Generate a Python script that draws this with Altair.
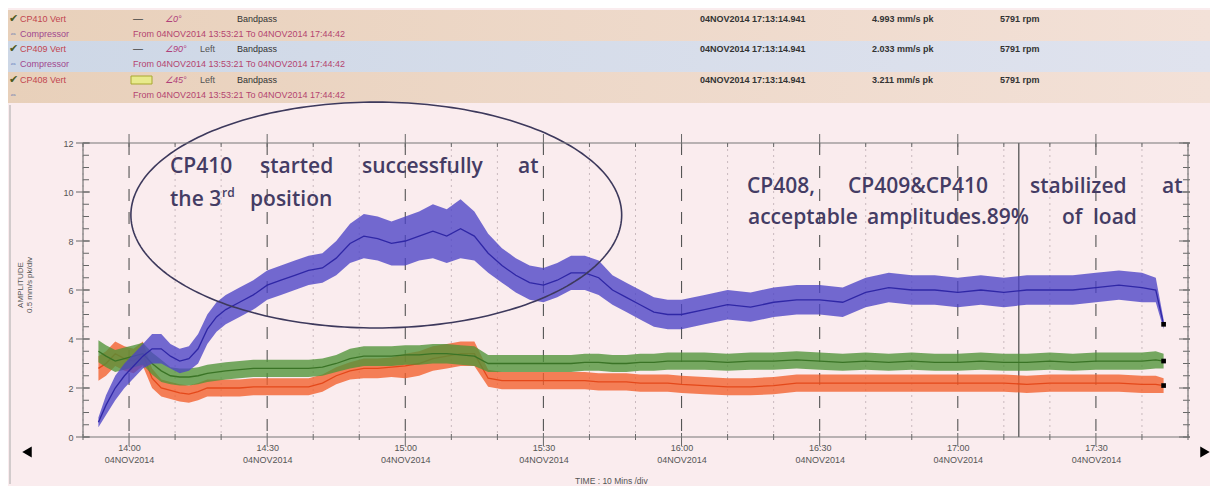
import altair as alt
import numpy as np
import pandas as pd

# ---------------- data ----------------
DAY = "2014-11-04 "
TIMES = ["13:53:21", "13:55", "13:57", "13:59", "14:01", "14:03", "14:05", "14:07", "14:09", "14:11",
         "14:13", "14:15", "14:17", "14:19", "14:21", "14:24", "14:27", "14:30", "14:33", "14:36",
         "14:39", "14:42", "14:45", "14:48", "14:51", "14:54", "14:57", "15:00", "15:03", "15:06",
         "15:09", "15:12", "15:15", "15:18", "15:21", "15:24", "15:27", "15:30", "15:33", "15:36",
         "15:39", "15:42", "15:45", "15:48", "15:51", "15:54", "15:57", "16:00", "16:05", "16:10",
         "16:15", "16:20", "16:25", "16:30", "16:35", "16:40", "16:45", "16:50", "16:55", "17:00",
         "17:05", "17:10", "17:15", "17:20", "17:25", "17:30", "17:35", "17:40", "17:43", "17:44:42"]

CP410 = [0.6, 1.3, 2.0, 2.5, 2.9, 3.3, 3.6, 3.6, 3.3, 3.1,
         3.2, 3.6, 4.4, 4.9, 5.2, 5.5, 5.8, 6.2, 6.4, 6.6,
         6.8, 6.9, 7.3, 7.9, 8.2, 8.1, 7.9, 8.0, 8.2, 8.4,
         8.2, 8.5, 8.2, 7.5, 7.0, 6.6, 6.3, 6.2, 6.4, 6.7,
         6.7, 6.5, 6.0, 5.7, 5.4, 5.1, 5.0, 5.0, 5.2, 5.4,
         5.3, 5.5, 5.6, 5.6, 5.5, 5.9, 6.1, 6.0, 6.0, 5.9,
         6.0, 5.9, 6.0, 6.0, 6.0, 6.1, 6.2, 6.1, 6.0, 4.6]
CP410_SPREAD = [0.2, 0.4, 0.5, 0.5, 0.5, 0.5, 0.6, 0.6, 0.5, 0.5,
                0.5, 0.6, 0.6, 0.6, 0.6, 0.6, 0.6, 0.6, 0.6, 0.6,
                0.6, 0.6, 0.7, 0.8, 0.9, 0.9, 0.9, 1.0, 1.0, 1.1,
                1.1, 1.2, 1.0, 0.8, 0.7, 0.7, 0.7, 0.7, 0.7, 0.7,
                0.7, 0.7, 0.6, 0.6, 0.6, 0.6, 0.6, 0.6, 0.6, 0.6,
                0.6, 0.6, 0.6, 0.6, 0.6, 0.6, 0.6, 0.6, 0.6, 0.6,
                0.6, 0.6, 0.6, 0.6, 0.6, 0.6, 0.6, 0.6, 0.5, 0.2]

CP408 = [3.5, 3.3, 3.1, 3.2, 3.3, 3.4, 3.0, 2.7, 2.5, 2.45,
         2.45, 2.5, 2.6, 2.65, 2.7, 2.75, 2.8, 2.8, 2.8, 2.8,
         2.8, 2.85, 3.0, 3.2, 3.3, 3.3, 3.3, 3.35, 3.35, 3.4,
         3.4, 3.35, 3.3, 3.0, 3.0, 3.0, 3.0, 3.0, 3.0, 3.0,
         3.05, 3.05, 3.0, 3.0, 3.05, 3.05, 3.1, 3.1, 3.1, 3.05,
         3.1, 3.1, 3.15, 3.1, 3.05, 3.1, 3.05, 3.1, 3.05, 3.05,
         3.1, 3.05, 3.05, 3.1, 3.05, 3.1, 3.1, 3.1, 3.15, 3.1]
CP408_SPREAD = [0.45, 0.45, 0.45, 0.45, 0.45, 0.45, 0.45, 0.45, 0.35, 0.35,
                0.35, 0.35, 0.35, 0.35, 0.35, 0.35, 0.35, 0.35, 0.35, 0.35,
                0.35, 0.35, 0.35, 0.4, 0.4, 0.4, 0.4, 0.4, 0.4, 0.4,
                0.4, 0.4, 0.4, 0.35, 0.35, 0.35, 0.35, 0.35, 0.35, 0.35,
                0.35, 0.35, 0.35, 0.35, 0.35, 0.35, 0.35, 0.35, 0.35, 0.35,
                0.35, 0.35, 0.35, 0.35, 0.35, 0.35, 0.35, 0.35, 0.35, 0.35,
                0.35, 0.35, 0.35, 0.35, 0.35, 0.35, 0.35, 0.35, 0.35, 0.3]

CP409 = [2.8, 3.0, 3.4, 3.2, 3.1, 3.4, 2.4, 2.0, 1.9, 1.8,
         1.75, 1.85, 2.0, 2.0, 2.0, 2.0, 2.05, 2.05, 2.05, 2.05,
         2.05, 2.2, 2.5, 2.7, 2.8, 2.8, 2.85, 2.9, 3.0, 3.2,
         3.3, 3.4, 3.4, 2.4, 2.3, 2.3, 2.3, 2.3, 2.3, 2.3,
         2.3, 2.25, 2.25, 2.25, 2.2, 2.2, 2.2, 2.15, 2.1, 2.05,
         2.05, 2.1, 2.2, 2.2, 2.2, 2.2, 2.2, 2.2, 2.2, 2.2,
         2.2, 2.2, 2.15, 2.2, 2.2, 2.2, 2.2, 2.15, 2.15, 2.1]
CP409_SPREAD = [0.5, 0.5, 0.5, 0.5, 0.5, 0.5, 0.4, 0.35, 0.35, 0.35,
                0.35, 0.35, 0.35, 0.35, 0.35, 0.35, 0.35, 0.35, 0.35, 0.35,
                0.35, 0.35, 0.35, 0.35, 0.4, 0.4, 0.4, 0.5, 0.5, 0.5,
                0.5, 0.5, 0.5, 0.35, 0.35, 0.35, 0.35, 0.35, 0.35, 0.35,
                0.35, 0.35, 0.35, 0.35, 0.35, 0.35, 0.35, 0.35, 0.35, 0.35,
                0.35, 0.35, 0.35, 0.35, 0.35, 0.35, 0.35, 0.35, 0.35, 0.35,
                0.35, 0.35, 0.35, 0.35, 0.35, 0.35, 0.35, 0.35, 0.35, 0.3]

X_TICKS = ["14:00", "14:30", "15:00", "15:30", "16:00", "16:30", "17:00", "17:30"]
X_MINOR = ["13:50", "14:10", "14:20", "14:40", "14:50", "15:10", "15:20", "15:40", "15:50",
           "16:10", "16:20", "16:40", "16:50", "17:10", "17:20", "17:40", "17:50"]
Y_TICKS = [0, 2, 4, 6, 8, 10, 12]
Y_MINOR = [0.5 * i for i in range(25)]
CURSOR_TIME = "17:13:15"

CHANNELS = ["CP410 Vert", "CP409 Vert", "CP408 Vert"]
MACHINES = ["Compressor", "Compressor", ""]
ANGLES = ["∠0°", "∠90°", "∠45°"]
SIDES = ["", "Left", "Left"]
FILTERS = ["Bandpass", "Bandpass", "Bandpass"]
RANGE_TEXT = "From 04NOV2014 13:53:21 To 04NOV2014 17:44:42"
CURSOR_TEXT = "04NOV2014 17:13:14.941"
CURSOR_VALUES = ["4.993 mm/s pk", "2.033 mm/s pk", "3.211 mm/s pk"]
SPEED = "5791 rpm"

# ellipse annotation (centre and radii, in data units)
ELL_CENTER = "14:53:42"
ELL_RX_MIN = 53.3
ELL_CY = 9.06
ELL_RY = 4.61

# ---------------- layout ----------------
W, H = 1105, 294
BG = "#faecee"
FONT = "Liberation Sans"
ANN_FONT = "Open Sans"
ANN_COLOR = "#443c64"


def t(s):
    return pd.Timestamp(DAY + s)


def dt(h, m):
    return alt.DateTime(year=2014, month=11, date=4, hours=h, minutes=m)


x_scale = alt.Scale(domain=[dt(13, 50), dt(17, 50)])
y_scale = alt.Scale(domain=[0, 12], nice=False)
x_axis = alt.Axis(values=[dt(int(s[:2]), int(s[3:])) for s in X_TICKS],
                  labelExpr="[timeFormat(datum.value, '%H:%M'), '04NOV2014']",
                  title=None, ticks=False, domain=False, grid=False, zindex=2,
                  labelFont=FONT, labelFontSize=9, labelColor="#555", labelPadding=6,
                  labelLineHeight=12)
y_axis = alt.Axis(values=Y_TICKS, title=None, ticks=False, domain=False, grid=False, zindex=2,
                  labelFont=FONT, labelFontSize=9, labelColor="#555", labelPadding=10)
X = alt.X("time:T", scale=x_scale, axis=x_axis)
Y = alt.Y("amp:Q", scale=y_scale, axis=y_axis)

one = pd.DataFrame({"k": [0]})


def text(s, x, y, color="#333", size=9, font=FONT, style="normal", weight="normal",
         align="left", angle=0):
    return alt.Chart(pd.DataFrame({"label": [s]})).mark_text(
        align=align, baseline="middle", color=color, fontSize=size, font=font,
        fontStyle=style, fontWeight=weight, angle=angle
    ).encode(x=alt.value(x), y=alt.value(y), text="label:N")


def rect(x1, x2, y1, y2, **kw):
    return alt.Chart(one).mark_rect(**kw).encode(
        x=alt.value(x1), x2=alt.value(x2), y=alt.value(y1), y2=alt.value(y2))


def grad(c1, c2):
    return alt.LinearGradient(gradient="linear", x1=0, x2=1, y1=0, y2=0,
                              stops=[alt.GradientStop(color=c1, offset=0),
                                     alt.GradientStop(color=c2, offset=1)])


layers = []
# page background (defines bounds)
layers.append(rect(-75, 1127, -135, 341, fill=BG))
# header bands
layers.append(rect(-75, 1127, -133, -102, color=grad("#e8d0ba", "#f3e1d8")))
layers.append(rect(-75, 1127, -102, -71, color=grad("#cdd7e6", "#e0e3ee")))
layers.append(rect(-75, 1127, -71, -40, color=grad("#e8d0ba", "#f3e1d8")))
layers.append(rect(48, 69, -67, -59, fill="#e8ea8c", stroke="#a8a830", strokeWidth=1))

row_y = [-124, -109, -94, -79, -63, -48]
for i in range(3):
    ya, yb = row_y[2 * i], row_y[2 * i + 1]
    layers.append(text("✔", -74, ya, color="#4d5a1e", size=11))
    layers.append(text(CHANNELS[i], -63, ya, color="#c2454f", size=9))
    layers.append(text("⇔", -74, yb, color="#3a5fb0", size=8))
    if MACHINES[i]:
        layers.append(text(MACHINES[i], -63, yb, color="#a0468e", size=9))
    if i < 2:
        layers.append(text("—", 50, ya, color="#444", size=10))
    layers.append(text(ANGLES[i], 82, ya, color="#b0407a", size=9, style="italic"))
    if SIDES[i]:
        layers.append(text(SIDES[i], 117, ya, color="#555", size=9))
    layers.append(text(FILTERS[i], 154, ya, color="#333", size=9))
    layers.append(text(RANGE_TEXT, 50, yb, color="#b44470", size=9))
    layers.append(text(CURSOR_TEXT, 617, ya, color="#333", size=9, weight="bold"))
    layers.append(text(CURSOR_VALUES[i], 789, ya, color="#333", size=9, weight="bold"))
    layers.append(text(SPEED, 917, ya, color="#333", size=9, weight="bold"))

# left UI border
layers.append(alt.Chart(one).mark_rule(color="#aaa").encode(
    x=alt.value(-73), y=alt.value(-38), y2=alt.value(341)))

# gridlines
minor_df = pd.DataFrame({"time": [t(s) for s in X_MINOR]})
major_df = pd.DataFrame({"time": [t(s) for s in X_TICKS]})
layers.append(alt.Chart(minor_df).mark_rule(color="#c9b9be", strokeDash=[2, 4], strokeWidth=1).encode(x=X))
layers.append(alt.Chart(major_df).mark_rule(color="#555", strokeDash=[12, 11], strokeWidth=1.1).encode(x=X))
# cursor
layers.append(alt.Chart(pd.DataFrame({"time": [t(CURSOR_TIME)]})).mark_rule(
    color="#555", strokeWidth=1.3).encode(x=X))

# series
series = [("CP409 Vert", CP409, CP409_SPREAD, "#f25f2c", "#e4481a"),
          ("CP408 Vert", CP408, CP408_SPREAD, "#4f9438", "#3a7426"),
          ("CP410 Vert", CP410, CP410_SPREAD, "#4b42c6", "#2f27a6")]
for name, vals, spr, fill, stroke in series:
    d = pd.DataFrame({"time": [t(s) for s in TIMES], "amp": vals, "spread": spr, "channel": name})
    base = alt.Chart(d).transform_calculate(lo="datum.amp - datum.spread", hi="datum.amp + datum.spread")
    layers.append(base.mark_area(color=fill, opacity=0.78).encode(
        x=X, y=alt.Y("lo:Q", scale=y_scale, axis=y_axis), y2="hi:Q"))
    layers.append(base.mark_line(color=stroke, strokeWidth=1.3).encode(x=X, y=Y))
    layers.append(alt.Chart(d.tail(1)).mark_square(color="black", size=22, opacity=1).encode(x=X, y=Y))

# ellipse annotation
theta = np.linspace(0, 2 * np.pi, 241)
ell = pd.DataFrame({
    "time": t(ELL_CENTER) + pd.to_timedelta(ELL_RX_MIN * np.cos(theta), unit="m"),
    "amp": ELL_CY + ELL_RY * np.sin(theta),
    "idx": np.arange(len(theta)),
})
layers.append(alt.Chart(ell).mark_line(color="#3d395c", strokeWidth=1.6).encode(
    x=X, y=Y, order="idx:Q"))

# ticks
tick = dict(color="#666", strokeWidth=1)
layers.append(alt.Chart(minor_df).mark_rule(**tick).encode(x=X, y=alt.value(H - 3), y2=alt.value(H + 3)))
layers.append(alt.Chart(major_df).mark_rule(**tick).encode(x=X, y=alt.value(H - 4), y2=alt.value(H + 9)))
layers.append(alt.Chart(minor_df).mark_rule(**tick).encode(x=X, y=alt.value(0), y2=alt.value(4)))
layers.append(alt.Chart(major_df).mark_rule(**tick).encode(x=X, y=alt.value(-9), y2=alt.value(4)))
ymin_df = pd.DataFrame({"amp": Y_MINOR})
ymaj_df = pd.DataFrame({"amp": Y_TICKS})
layers.append(alt.Chart(ymin_df).mark_rule(**tick).encode(y=Y, x=alt.value(0), x2=alt.value(6)))
layers.append(alt.Chart(ymaj_df).mark_rule(**tick).encode(y=Y, x=alt.value(-7), x2=alt.value(7)))
layers.append(alt.Chart(ymin_df).mark_rule(**tick).encode(y=Y, x=alt.value(W - 5), x2=alt.value(W + 2)))
layers.append(alt.Chart(ymaj_df).mark_rule(**tick).encode(y=Y, x=alt.value(W - 9), x2=alt.value(W + 2)))

# plot frame
layers.append(rect(0, W, 0, H, filled=False, stroke="#777", strokeWidth=1.2))

# annotations
AW = 600
for word, x in [("CP410", 87), ("started", 177), ("successfully", 279), ("at", 435)]:
    layers.append(text(word, x, 24, color=ANN_COLOR, size=21, font=ANN_FONT, weight=AW))
layers.append(text("the 3", 87, 57, color=ANN_COLOR, size=21, font=ANN_FONT, weight=AW))
layers.append(text("rd", 139, 50, color=ANN_COLOR, size=12, font=ANN_FONT, weight=AW))
layers.append(text("position", 167, 57, color=ANN_COLOR, size=21, font=ANN_FONT, weight=AW))
for word, x in [("CP408,", 664), ("CP409&CP410", 765), ("stabilized", 947), ("at", 1079)]:
    layers.append(text(word, x, 44, color=ANN_COLOR, size=21, font=ANN_FONT, weight=AW))
for word, x in [("acceptable", 665), ("amplitudes.89%", 784), ("of", 979), ("load", 1010)]:
    layers.append(text(word, x, 75, color=ANN_COLOR, size=21, font=ANN_FONT, weight=AW))

# axis titles
layers.append(text("AMPLITUDE", -62, 142, color="#555", size=8, align="center", angle=270))
layers.append(text("0.5 mm/s pk/div", -53, 142, color="#555", size=8, align="center", angle=270))
layers.append(text("TIME : 10 Mins /div", 492, 338, color="#555", size=8.5))

# scroll arrows
layers.append(alt.Chart(one).mark_point(shape="triangle-left", filled=True, color="black", size=120, opacity=1)
              .encode(x=alt.value(-56), y=alt.value(309)))
layers.append(alt.Chart(one).mark_point(shape="triangle-right", filled=True, color="black", size=120, opacity=1)
              .encode(x=alt.value(1122), y=alt.value(309)))

chart = alt.layer(*layers).properties(width=W, height=H, padding=0, background=BG).configure_view(strokeWidth=0)

chart.save("out.html", embed_options={"renderer": "svg", "actions": False})
